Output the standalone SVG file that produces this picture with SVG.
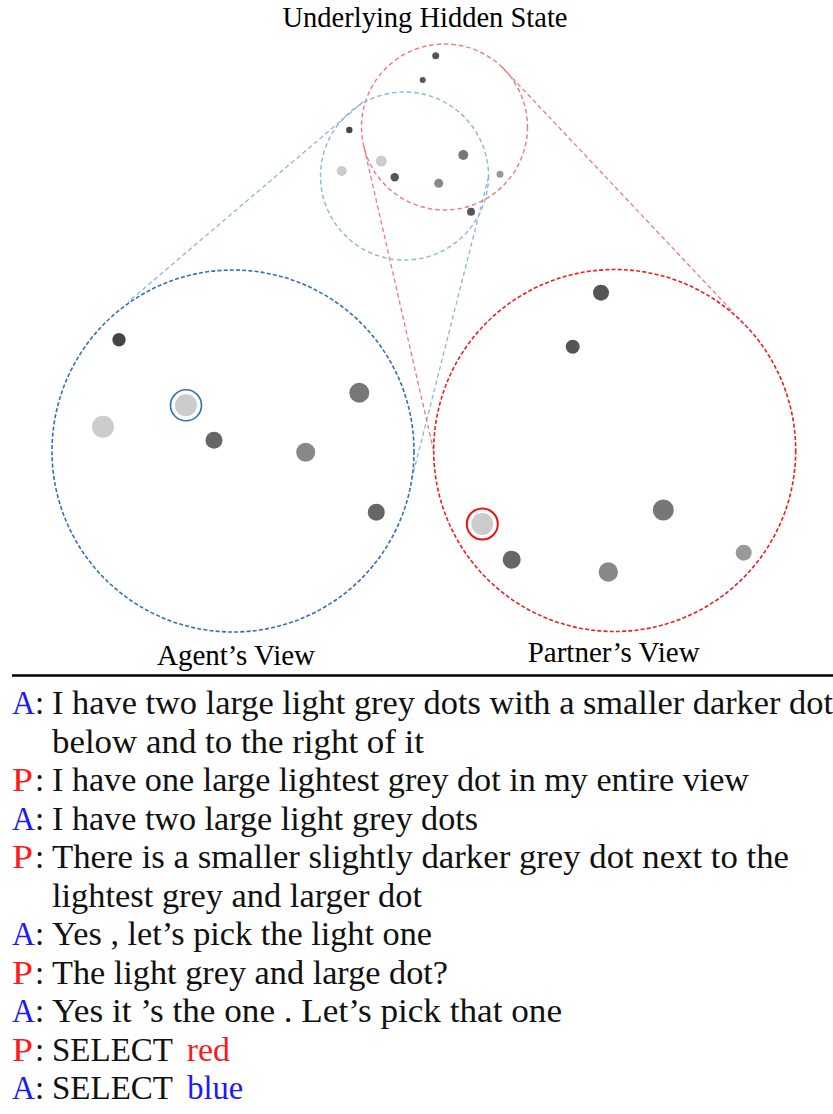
<svg xmlns="http://www.w3.org/2000/svg" width="833" height="1114" viewBox="0 0 833 1114">
<style>
.lbl{font-family:"Liberation Serif","Times New Roman",serif;fill:#000}
.dlg{font-family:"Liberation Serif","Times New Roman",serif;font-size:33px;fill:#111}
.ca{fill:#1a1aff}
.cp{fill:#ff1a1a}
.bigA{fill:none;stroke:#2f70b8;stroke-width:1.6;stroke-dasharray:4 2.2}
.bigP{fill:none;stroke:#ee1c1c;stroke-width:1.6;stroke-dasharray:4 2.2}
.smA{fill:none;stroke:#8db5dc;stroke-width:1.4;stroke-dasharray:4.5 3}
.smP{fill:none;stroke:#f27878;stroke-width:1.4;stroke-dasharray:4.5 3}
.lnA{stroke:#8db5dc;stroke-width:1.3;stroke-dasharray:4.5 3;fill:none}
.lnP{stroke:#f27878;stroke-width:1.3;stroke-dasharray:4.5 3;fill:none}
</style>
<rect width="833" height="1114" fill="#fff"/>

<g id="connectors">
<line class="lnA" x1="363" y1="102" x2="128" y2="302"/>
<line class="lnA" x1="488.5" y1="177" x2="412" y2="478"/>
<line class="lnP" x1="502" y1="67" x2="733" y2="312"/>
<line class="lnP" x1="364" y1="147" x2="433.5" y2="450"/>
</g>

<g id="hidden-state">
<text class="lbl" x="425" y="27" font-size="28.5" text-anchor="middle">Underlying Hidden State</text>
<circle class="smP" cx="444.5" cy="127" r="83"/>
<circle class="smA" cx="404.5" cy="176" r="84"/>
<circle cx="435.7" cy="55.7" r="3.5" fill="#555"/>
<circle cx="422.7" cy="80" r="3" fill="#555"/>
<circle cx="349.3" cy="130" r="3.2" fill="#444"/>
<circle cx="381.3" cy="161" r="5.5" fill="#ccc"/>
<circle cx="341.7" cy="171" r="5" fill="#ccc"/>
<circle cx="394.7" cy="177.3" r="4.2" fill="#555"/>
<circle cx="463.3" cy="155" r="5" fill="#777"/>
<circle cx="438.7" cy="183.3" r="4.5" fill="#888"/>
<circle cx="500" cy="174.3" r="3.5" fill="#999"/>
<circle cx="471" cy="211.7" r="4" fill="#555"/>
</g>

<g id="agent-view">
<circle class="bigA" cx="233" cy="451" r="181"/>
<circle cx="119" cy="339.7" r="6.7" fill="#444"/>
<circle cx="359.3" cy="392.7" r="10" fill="#777"/>
<circle cx="186" cy="405.3" r="11" fill="#ccc"/>
<circle cx="186" cy="405.3" r="15.5" fill="none" stroke="#2f70b8" stroke-width="1.6"/>
<circle cx="103" cy="426.7" r="11" fill="#ccc"/>
<circle cx="214" cy="440.3" r="8.5" fill="#666"/>
<circle cx="305.7" cy="452.3" r="9.5" fill="#888"/>
<circle cx="376.3" cy="512.3" r="8.5" fill="#666"/>
<text class="lbl" x="236" y="665" font-size="29" text-anchor="middle">Agent’s View</text>
</g>

<g id="partner-view">
<circle class="bigP" cx="614.7" cy="450.5" r="181"/>
<circle cx="601" cy="292.7" r="8" fill="#555"/>
<circle cx="572.7" cy="346.7" r="7" fill="#555"/>
<circle cx="663.3" cy="510" r="10.5" fill="#777"/>
<circle cx="482.3" cy="524" r="11" fill="#ccc"/>
<circle cx="482.3" cy="524" r="15.5" fill="none" stroke="#ee1111" stroke-width="2"/>
<circle cx="511.7" cy="559.7" r="9" fill="#666"/>
<circle cx="608.3" cy="572" r="9.7" fill="#888"/>
<circle cx="743.7" cy="552.7" r="8" fill="#999"/>
<text class="lbl" x="613.7" y="662.3" font-size="29" text-anchor="middle">Partner’s View</text>
</g>

<g id="divider">
<line x1="12" y1="675.5" x2="833" y2="675.5" stroke="#000" stroke-width="2.4"/>
</g>

<g id="dialogue" font-family="'Liberation Serif', 'Times New Roman', serif" font-size="33">
<text class="dlg ca" x="12" y="714" textLength="23" lengthAdjust="spacingAndGlyphs">A</text><text class="dlg" x="35" y="714">:</text>
<text class="dlg" x="52" y="714" textLength="781" lengthAdjust="spacingAndGlyphs">I have two large light grey dots with a smaller darker dot</text>
<text class="dlg" x="52" y="752.5" textLength="372" lengthAdjust="spacingAndGlyphs">below and to the right of it</text>
<text class="dlg cp" x="12" y="791" textLength="21" lengthAdjust="spacingAndGlyphs">P</text><text class="dlg" x="35" y="791">:</text>
<text class="dlg" x="52" y="791" textLength="697" lengthAdjust="spacingAndGlyphs">I have one large lightest grey dot in my entire view</text>
<text class="dlg ca" x="12" y="829.5" textLength="23" lengthAdjust="spacingAndGlyphs">A</text><text class="dlg" x="35" y="829.5">:</text>
<text class="dlg" x="52" y="829.5" textLength="426" lengthAdjust="spacingAndGlyphs">I have two large light grey dots</text>
<text class="dlg cp" x="12" y="868" textLength="21" lengthAdjust="spacingAndGlyphs">P</text><text class="dlg" x="35" y="868">:</text>
<text class="dlg" x="52" y="868" textLength="737" lengthAdjust="spacingAndGlyphs">There is a smaller slightly darker grey dot next to the</text>
<text class="dlg" x="52" y="906.5" textLength="370" lengthAdjust="spacingAndGlyphs">lightest grey and larger dot</text>
<text class="dlg ca" x="12" y="945" textLength="23" lengthAdjust="spacingAndGlyphs">A</text><text class="dlg" x="35" y="945">:</text>
<text class="dlg" x="52" y="945" textLength="380" lengthAdjust="spacingAndGlyphs">Yes , let’s pick the light one</text>
<text class="dlg cp" x="12" y="983.5" textLength="21" lengthAdjust="spacingAndGlyphs">P</text><text class="dlg" x="35" y="983.5">:</text>
<text class="dlg" x="52" y="983.5" textLength="396" lengthAdjust="spacingAndGlyphs">The light grey and large dot?</text>
<text class="dlg ca" x="12" y="1022" textLength="23" lengthAdjust="spacingAndGlyphs">A</text><text class="dlg" x="35" y="1022">:</text>
<text class="dlg" x="52" y="1022" textLength="510" lengthAdjust="spacingAndGlyphs">Yes it ’s the one . Let’s pick that one</text>
<text class="dlg cp" x="12" y="1060.5" textLength="21" lengthAdjust="spacingAndGlyphs">P</text><text class="dlg" x="35" y="1060.5">:</text>
<text class="dlg" x="52" y="1060.5" textLength="121" lengthAdjust="spacingAndGlyphs">SELECT</text>
<text class="dlg cp" x="186.7" y="1060.5" textLength="43.3" lengthAdjust="spacingAndGlyphs">red</text>
<text class="dlg ca" x="12" y="1099" textLength="23" lengthAdjust="spacingAndGlyphs">A</text><text class="dlg" x="35" y="1099">:</text>
<text class="dlg" x="52" y="1099" textLength="121" lengthAdjust="spacingAndGlyphs">SELECT</text>
<text class="dlg ca" x="187.3" y="1099" textLength="56" lengthAdjust="spacingAndGlyphs">blue</text>
</g>
</svg>
